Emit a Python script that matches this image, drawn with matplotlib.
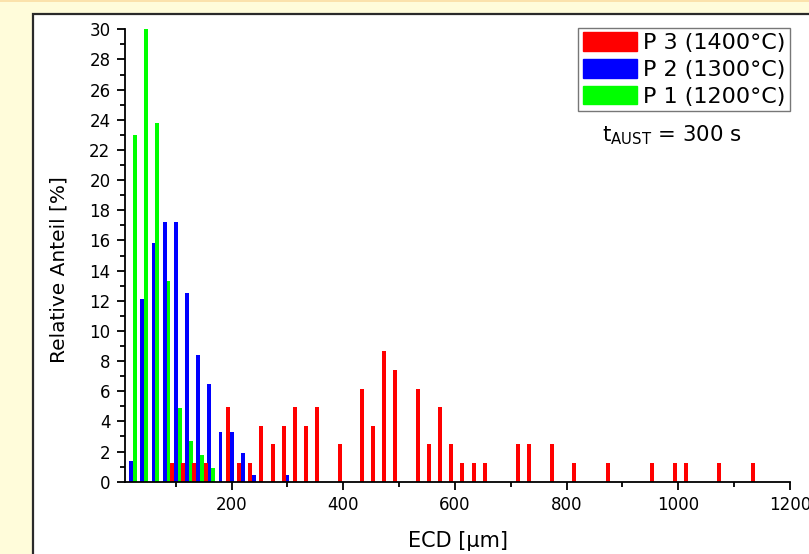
import matplotlib
matplotlib.use("Agg")
import matplotlib.pyplot as plt
from matplotlib.patches import Rectangle
from matplotlib.ticker import MultipleLocator

# ---- data: relative share per 20 µm ECD class ----
bins_p1 = [20, 40, 60, 80, 100, 120, 140, 160]
share_p1 = [23.0, 30.0, 23.8, 13.3, 4.9, 2.7, 1.8, 0.9]

bins_p2 = [20, 40, 60, 80, 100, 120, 140, 160, 180, 200, 220, 240, 300]
share_p2 = [1.4, 12.1, 15.8, 17.2, 17.2, 12.5, 8.4, 6.5, 3.3, 3.3, 1.9, 0.47, 0.47]

bins_p3 = [100, 120, 140, 160, 200, 220, 240, 260, 280, 300, 320, 340, 360,
           400, 440, 460, 480, 500, 540, 560, 580, 600, 620, 640, 660,
           720, 740, 780, 820, 880, 960, 1000, 1020, 1080, 1140]
share_p3 = [1.23, 1.23, 1.23, 1.23, 4.94, 1.23, 1.23, 3.70, 2.47, 3.70, 4.94, 3.70, 4.94,
            2.47, 6.17, 3.70, 8.64, 7.41, 6.17, 2.47, 4.94, 2.47, 1.23, 1.23, 1.23,
            2.47, 2.47, 2.47, 1.23, 1.23, 1.23, 1.23, 1.23, 1.23, 1.23]

labels = ["P 3 (1400°C)", "P 2 (1300°C)", "P 1 (1200°C)"]
x_ticks = [200, 400, 600, 800, 1000, 1200]
y_ticks = list(range(0, 31, 2))

# ---- style ----
W, H = 809, 554
plt.rcParams["font.family"] = ["DejaVu Sans"]
plt.rcParams["mathtext.fontset"] = "dejavusans"

col_p3, col_p2, col_p1 = "#FF0000", "#0000FF", "#00FF00"
bar_w = 7.0        # width of one bar in µm
shift = 6.7        # offset of neighbouring series within a class

fig = plt.figure(figsize=(W / 100, H / 100), dpi=100, facecolor="#FFFCDA")

# thin warm strip on top and the white framed panel (kept behind the axes)
fig.patches.append(Rectangle((0, 1 - 2 / H), 1, 2 / H, transform=fig.transFigure,
                             facecolor="#FBE2AC", edgecolor="none", zorder=-10))
fig.patches.append(Rectangle((33 / W, -0.1), 1.2, 1.1 - 14 / H, transform=fig.transFigure,
                             facecolor="white", edgecolor="#2A2A2A", linewidth=1.6, zorder=-10))

x0, x1 = 125, 790
y_top, y_bot = 29.3, 481.7
ax = fig.add_axes([x0 / W, 1 - y_bot / H, (x1 - x0) / W, (y_bot - y_top) / H])
ax.set_zorder(5)
ax.patch.set_alpha(0)

ax.bar([b + shift for b in bins_p1], share_p1, width=bar_w, color=col_p1, linewidth=0, zorder=2)
ax.bar(bins_p2, share_p2, width=bar_w, color=col_p2, linewidth=0, zorder=2)
ax.bar([b - shift for b in bins_p3], share_p3, width=bar_w, color=col_p3, linewidth=0, zorder=2)

ax.set_xlim(9, 1200)
ax.set_ylim(0, 30)
ax.set_xticks(x_ticks)
ax.set_yticks(y_ticks)
ax.xaxis.set_minor_locator(MultipleLocator(100))
ax.yaxis.set_minor_locator(MultipleLocator(1))

for side in ("top", "right"):
    ax.spines[side].set_visible(False)
for side in ("left", "bottom"):
    ax.spines[side].set_linewidth(1.3)
    ax.spines[side].set_color("black")

ax.tick_params(which="major", direction="out", length=6, width=1.3, pad=4.5,
               labelsize=12, colors="black")
ax.tick_params(which="minor", direction="out", length=3.5, width=1.3)

ax.set_xlabel("ECD [µm]", fontsize=15)
ax.set_ylabel("Relative Anteil [%]", fontsize=14.5)
ax.xaxis.set_label_coords(0.5, -0.108)
ax.yaxis.set_label_coords(-0.085, 0.47)

handles = [Rectangle((0, 0), 1, 1, color=c) for c in (col_p3, col_p2, col_p1)]
leg = ax.legend(handles, labels, loc="upper right",
                bbox_to_anchor=(790 / W, 1 - 28 / H), bbox_transform=fig.transFigure,
                borderaxespad=0, fontsize=16, frameon=True, fancybox=False,
                edgecolor="#555555", handlelength=2.45, handleheight=0.9,
                handletextpad=0.28, labelspacing=0.26, borderpad=0.2)
leg.get_frame().set_linewidth(1.0)

fig.text(672 / W, 1 - 141 / H, r"$\mathrm{t}_{\mathrm{AUST}}$ = 300 s", fontsize=15.3,
         ha="center", va="baseline", zorder=6)

fig.savefig("out.png", dpi=100, facecolor=fig.get_facecolor())
